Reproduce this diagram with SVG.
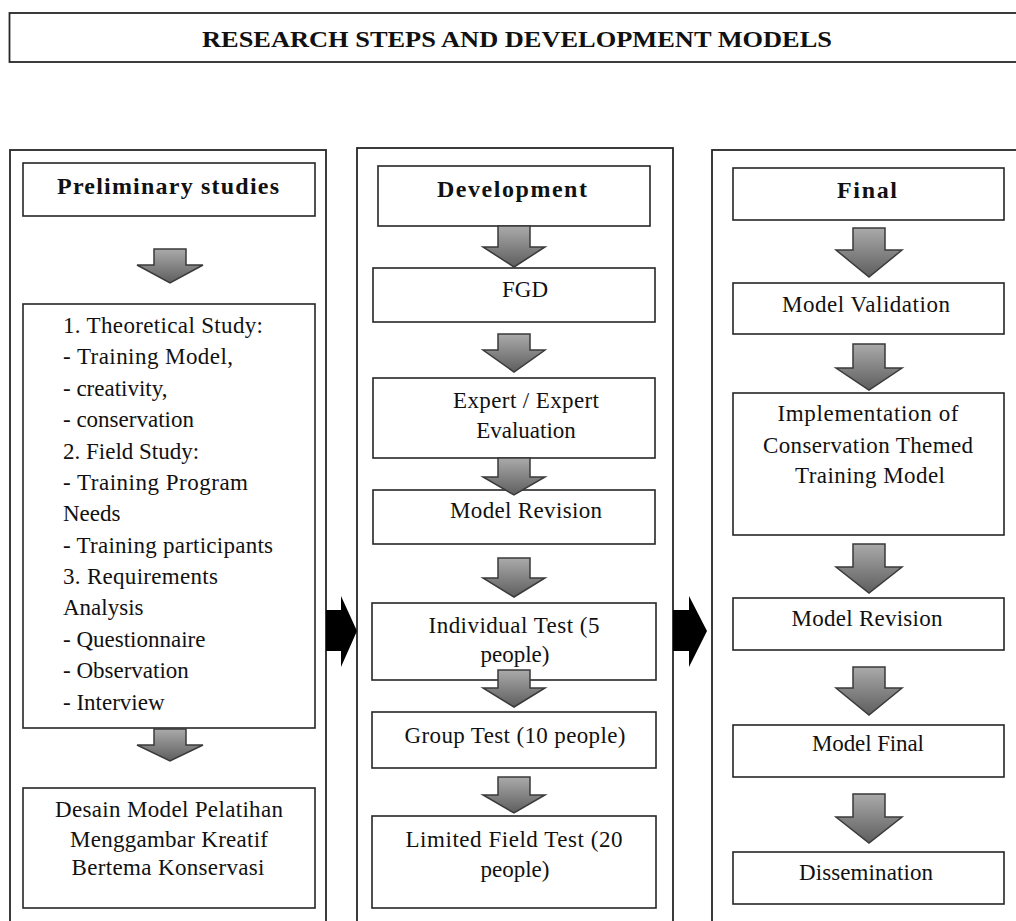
<svg xmlns="http://www.w3.org/2000/svg" width="1016" height="921" viewBox="0 0 1016 921">
<defs>
<linearGradient id="g" x1="0" y1="0" x2="0" y2="1">
<stop offset="0" stop-color="#aaaaaa"/>
<stop offset="1" stop-color="#5e5e5e"/>
</linearGradient>
</defs>
<style>
rect{fill:#fff;stroke:#262626;stroke-width:1.6}
.col{stroke-width:1.8}
text{font-family:"Liberation Serif","Times New Roman",serif;font-size:23px;fill:#111}
.c{text-anchor:middle}
.h{font-weight:bold;font-size:24px}
.t{font-weight:bold;font-size:23.5px}
.ar{fill:url(#g);stroke:#3a3a3a;stroke-width:1.5;stroke-linejoin:miter}
.bk{fill:#000;stroke:none}
</style>
<g id="title">
<rect x="9.5" y="13" width="1020" height="49" class="col"/>
<text x="517" y="47" class="c t" textLength="630" lengthAdjust="spacingAndGlyphs">RESEARCH  STEPS AND DEVELOPMENT MODELS</text>
</g>
<g id="columns">
<rect x="10" y="150" width="316" height="800" class="col"/>
<rect x="357" y="148" width="316" height="800" class="col"/>
<rect x="712" y="150" width="316" height="800" class="col"/>
</g>
<g id="preliminary">
<rect x="23" y="163" width="292" height="53"/>
<text x="168" y="194" class="c h" textLength="222">Preliminary studies</text>
</g>
<g id="studies">
<rect x="23" y="304" width="292" height="424"/>
<text x="63" y="333" textLength="200">1. Theoretical Study:</text>
<text x="63" y="364" textLength="170">- Training Model,</text>
<text x="63" y="396">- creativity,</text>
<text x="63" y="427">- conservation</text>
<text x="63" y="459">2. Field Study:</text>
<text x="63" y="490" textLength="185">- Training Program</text>
<text x="63" y="521">Needs</text>
<text x="63" y="553" textLength="210">- Training participants</text>
<text x="63" y="584" textLength="155">3. Requirements</text>
<text x="63" y="615">Analysis</text>
<text x="63" y="647">- Questionnaire</text>
<text x="63" y="678">- Observation</text>
<text x="63" y="710">- Interview</text>
</g>
<g id="desain">
<rect x="23" y="788" width="292" height="120"/>
<text x="169" y="817" class="c" textLength="228">Desain Model Pelatihan</text>
<text x="169" y="847" class="c" textLength="198">Menggambar Kreatif</text>
<text x="168" y="875" class="c" textLength="193">Bertema Konservasi</text>
</g>
<g id="development">
<rect x="378" y="166" width="272" height="60"/>
<text x="512" y="197" class="c h" textLength="150">Development</text>
</g>
<g id="fgd">
<rect x="373" y="268" width="282" height="54"/>
<text x="525" y="297" class="c">FGD</text>
</g>
<g id="expert">
<rect x="373" y="378" width="282" height="80"/>
<text x="526" y="408" class="c" textLength="146">Expert / Expert</text>
<text x="526" y="438" class="c">Evaluation</text>
</g>
<g id="revision1">
<rect x="373" y="490" width="282" height="54"/>
<text x="526" y="518" class="c" textLength="152">Model Revision</text>
</g>
<g id="individual">
<rect x="372" y="603" width="284" height="77"/>
<text x="514" y="633" class="c" textLength="171">Individual Test (5</text>
<text x="515" y="662" class="c">people)</text>
</g>
<g id="group">
<rect x="372" y="712" width="284" height="56"/>
<text x="515" y="743" class="c" textLength="221">Group Test (10 people)</text>
</g>
<g id="limited">
<rect x="372" y="816" width="284" height="92"/>
<text x="514" y="847" class="c" textLength="217">Limited Field Test (20</text>
<text x="515" y="877" class="c">people)</text>
</g>
<g id="final">
<rect x="733" y="168" width="271" height="52"/>
<text x="867" y="198" class="c h" textLength="60">Final</text>
</g>
<g id="validation">
<rect x="733" y="283" width="271" height="51"/>
<text x="866" y="312" class="c" textLength="168">Model Validation</text>
</g>
<g id="implementation">
<rect x="733" y="393" width="271" height="142"/>
<text x="868" y="421" class="c" textLength="181">Implementation  of</text>
<text x="868" y="453" class="c" textLength="210">Conservation Themed</text>
<text x="870" y="483" class="c" textLength="150">Training Model</text>
</g>
<g id="revision2">
<rect x="733" y="598" width="271" height="52"/>
<text x="867" y="626" class="c" textLength="151">Model Revision</text>
</g>
<g id="modelfinal">
<rect x="733" y="725" width="271" height="52"/>
<text x="868" y="751" class="c" textLength="112">Model Final</text>
</g>
<g id="dissemination">
<rect x="733" y="852" width="271" height="52"/>
<text x="866" y="880" class="c" textLength="134">Dissemination</text>
</g>
<g id="connectors">
<path class="ar" d="M154 249 H186 V265 H203 L170 283 L137 265 H154 Z"/>
<path class="ar" d="M154 729 H186 V745 H203 L170 761 L137 745 H154 Z"/>
<path class="ar" d="M498 226 H530 V247 H545 L514 267 L483 247 H498 Z"/>
<path class="ar" d="M498 334 H530 V350 H545 L514 372 L483 350 H498 Z"/>
<path class="ar" d="M498 458 H530 V477 H545 L514 495 L483 477 H498 Z"/>
<path class="ar" d="M498 558 H530 V578 H545 L514 597 L483 578 H498 Z"/>
<path class="ar" d="M498 670 H530 V688 H545 L514 707 L483 688 H498 Z"/>
<path class="ar" d="M498 777 H530 V795 H545 L514 813 L483 795 H498 Z"/>
<path class="ar" d="M853 228 H885 V250 H902 L869 277 L836 250 H853 Z"/>
<path class="ar" d="M853 344 H885 V368 H902 L869 390 L836 368 H853 Z"/>
<path class="ar" d="M853 544 H885 V567 H902 L869 593 L836 567 H853 Z"/>
<path class="ar" d="M853 667 H885 V688 H902 L869 715 L836 688 H853 Z"/>
<path class="ar" d="M853 794 H885 V817 H902 L869 843 L836 817 H853 Z"/>
<path class="bk" d="M326 610 H341 V596 L357 631 L341 667 V651 H326 Z"/>
<path class="bk" d="M673 610 H689 V596 L707 631 L689 667 V651 H673 Z"/>
</g>
</svg>
